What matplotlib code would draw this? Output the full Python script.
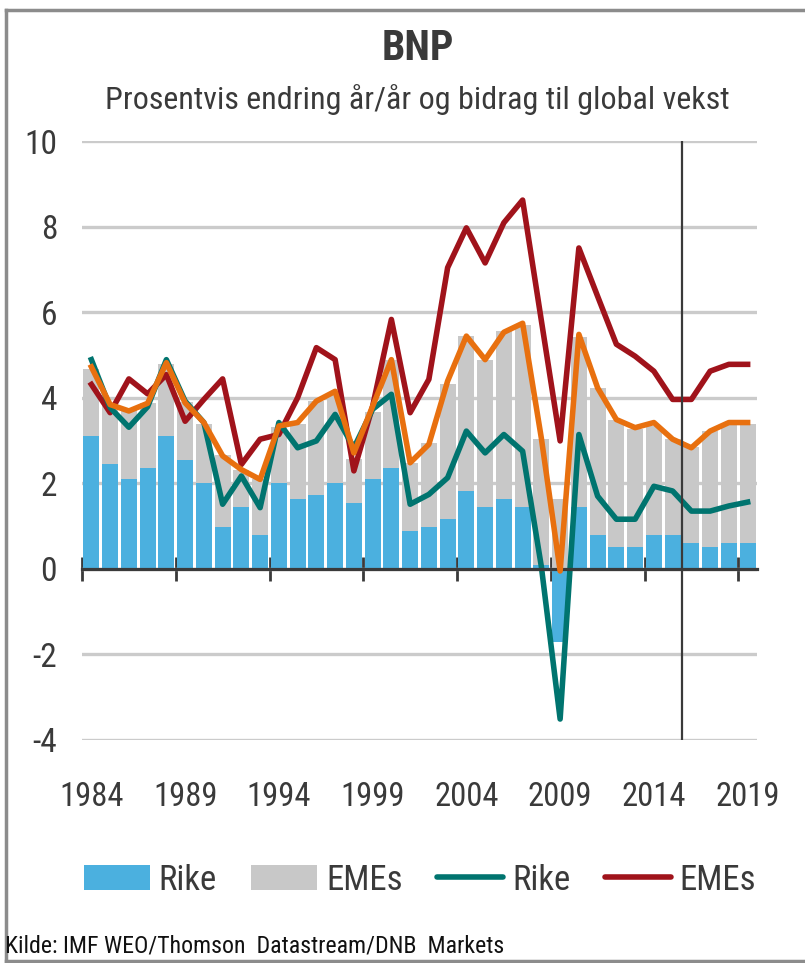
import matplotlib
matplotlib.use("Agg")
import matplotlib.pyplot as plt
import numpy as np
from matplotlib.patches import Patch
from matplotlib.lines import Line2D

plt.rcParams['font.family'] = ['Liberation Sans Narrow', 'Roboto Condensed',
                               'Archivo Narrow', 'DejaVu Sans']

years = list(range(1984, 2020))
rike_bidrag = [3.10, 2.46, 2.09, 2.36, 3.10, 2.54, 2.00, 0.98, 1.44, 0.79,
               2.00, 1.64, 1.72, 2.00, 1.55, 2.09, 2.36, 0.88, 0.98, 1.16,
               1.82, 1.44, 1.64, 1.44, 0.10, -1.71, 1.44, 0.79, 0.51, 0.51,
               0.79, 0.79, 0.60, 0.51, 0.60, 0.60]
eme_bidrag = [1.58, 1.34, 1.64, 1.51, 1.68, 1.36, 1.39, 1.67, 0.88, 1.30,
              1.31, 1.75, 2.20, 2.08, 1.01, 1.57, 2.53, 1.60, 1.97, 3.15,
              3.62, 3.44, 3.92, 4.27, 2.93, 1.64, 3.98, 3.43, 2.97, 2.77,
              2.55, 2.24, 2.24, 2.71, 2.78, 2.78]
rike_vekst = [4.89, 3.77, 3.31, 3.79, 4.89, 3.92, 3.42, 1.51, 2.17, 1.43,
              3.42, 2.83, 2.99, 3.61, 2.83, 3.73, 4.08, 1.51, 1.74, 2.13,
              3.22, 2.71, 3.14, 2.75, 0.05, -3.51, 3.14, 1.70, 1.16, 1.16,
              1.93, 1.82, 1.35, 1.35, 1.47, 1.56]
eme_vekst = [4.31, 3.65, 4.44, 4.09, 4.54, 3.45, 3.96, 4.44, 2.44, 3.03,
             3.14, 4.00, 5.17, 4.89, 2.29, 3.80, 5.83, 3.65, 4.43, 7.04,
             7.97, 7.15, 8.09, 8.62, 5.80, 2.99, 7.50, 6.37, 5.25, 4.97,
             4.62, 3.96, 3.96, 4.62, 4.78, 4.78]
global_vekst = [4.72, 3.84, 3.69, 3.87, 4.82, 3.88, 3.42, 2.64, 2.32, 2.09,
                3.34, 3.42, 3.92, 4.15, 2.71, 3.80, 4.89, 2.48, 2.91, 4.39,
                5.44, 4.89, 5.53, 5.74, 3.05, -0.05, 5.48, 4.23, 3.49, 3.30,
                3.42, 3.03, 2.83, 3.22, 3.42, 3.42]
label_years = [1984, 1989, 1994, 1999, 2004, 2009, 2014, 2019]
yticks = [-4, -2, 0, 2, 4, 6, 8, 10]
prognose_fra = 2015.5

BLUE = '#4BB0DF'
GRAY = '#C8C8C8'
TEAL = '#00746F'
RED = '#A0131B'
ORANGE = '#E8700F'
DARK = '#3A3A3A'
FS = 24

fig = plt.figure(figsize=(8.05, 9.63), dpi=100)
ax = fig.add_axes([82/805, 1-740/963, 675/805, 599/963])

x = np.array(years)
rb = np.array(rike_bidrag)
eb = np.array(eme_bidrag)
ax.bar(x, rb, width=0.86, color=BLUE, zorder=2)
ax.bar(x, eb, bottom=np.maximum(rb, 0), width=0.86, color=GRAY, zorder=2)

lw = 4.0
ax.plot(x, eme_vekst, color=RED, lw=lw, zorder=3)
ax.plot(x, rike_vekst, color=TEAL, lw=lw, zorder=3)
ax.plot(x, global_vekst, color=ORANGE, lw=lw, zorder=4)

ax.axvline(prognose_fra, color=DARK, lw=1.6, zorder=5)

ax.set_xlim(1983.5, 2019.5)
ax.set_ylim(-4, 10)
ax.set_yticks(yticks)
ax.set_yticklabels([str(v) for v in yticks])
ax.yaxis.grid(True, color='#CBCBCB', lw=2.4, zorder=0)
ax.set_axisbelow(True)
ax.tick_params(axis='y', length=0, pad=18, labelsize=FS, labelcolor=DARK)

for s in ['top', 'right', 'left']:
    ax.spines[s].set_visible(False)
ax.spines['bottom'].set_position(('data', 0))
ax.spines['bottom'].set_color(DARK)
ax.spines['bottom'].set_linewidth(2.3)
ax.spines['bottom'].set_zorder(3)
ax.set_xticks(np.arange(1983.5, 2019, 5))
ax.tick_params(axis='x', direction='inout', length=17, width=2, color=DARK,
               labelbottom=False)
for yr in label_years:
    ax.text(yr, -0.095, str(yr), transform=ax.get_xaxis_transform(),
            ha='center', va='center', fontsize=23.5, color=DARK)

fig.text(0.519, 1-48/963, 'BNP', ha='center', va='center', fontsize=30,
         fontweight='bold', color=DARK)
fig.text(0.519, 1-100/963, 'Prosentvis endring år/år og bidrag til global vekst',
         ha='center', va='center', fontsize=23, color=DARK)
fig.text(5/805, 1-946/963, 'Kilde: IMF WEO/Thomson  Datastream/DNB  Markets',
         ha='left', va='center', fontsize=17.2, color='#111111')

handles = [Patch(facecolor=BLUE, edgecolor='none'),
           Patch(facecolor=GRAY, edgecolor='none'),
           Line2D([], [], color=TEAL, lw=lw, solid_capstyle='round'),
           Line2D([], [], color=RED, lw=lw, solid_capstyle='round')]
labels = ['Rike', 'EMEs', 'Rike', 'EMEs']
leg = fig.legend(handles, labels, loc='center', bbox_to_anchor=(420/805, 1-880/963),
                 ncol=4, frameon=False, fontsize=25, handlelength=1.9,
                 handletextpad=0.25, columnspacing=1.0, labelcolor=DARK)

# outer frame (left, top, bottom)
frame_c = '#8C8C8C'
fig.add_artist(Line2D([6/805, 6/805], [2/963, 1-10/963], color=frame_c, lw=2.5,
                      transform=fig.transFigure))
fig.add_artist(Line2D([6/805, 1], [1-10/963, 1-10/963], color=frame_c, lw=2.5,
                      transform=fig.transFigure))
fig.add_artist(Line2D([6/805, 1], [2/963, 2/963], color=frame_c, lw=2.5,
                      transform=fig.transFigure))

fig.savefig('out.png', dpi=100)
